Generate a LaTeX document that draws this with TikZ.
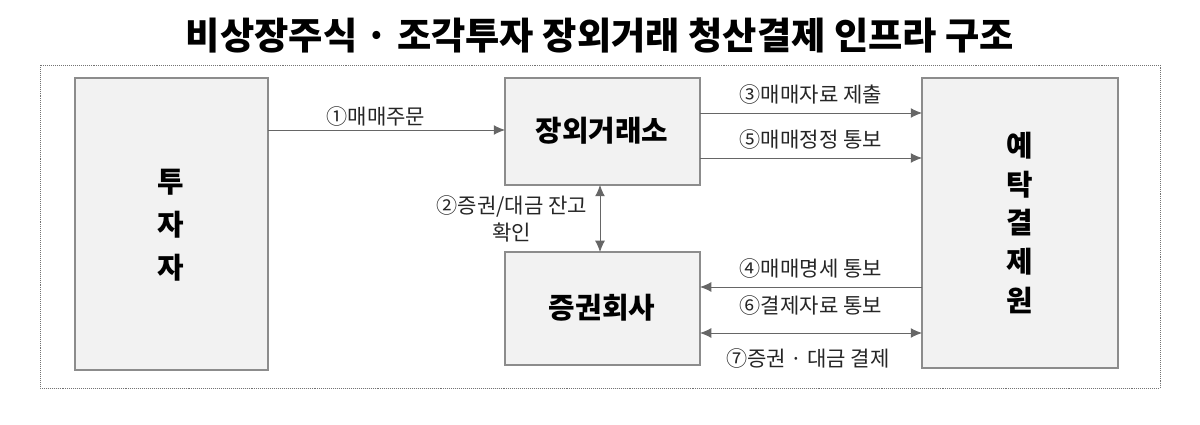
\documentclass[tikz,border=0pt]{standalone}
\usepackage{fontspec}
\setmainfont{Noto Sans CJK KR}
\usetikzlibrary{arrows.meta}
\begin{document}
\begin{tikzpicture}[x=0.025cm,y=-0.025cm,
  box/.style={draw=black!45,fill=black!5,line width=0.8pt},
  arr/.style={-{Latex[length=8pt,width=7pt]},line width=0.6pt,draw=black!60},
  darr/.style={{Latex[length=8pt,width=7pt]}-{Latex[length=8pt,width=7pt]},line width=0.6pt,draw=black!60},
  lab/.style={font=\fontsize{15}{19}\selectfont,text=black!85},
  big/.style={font=\fontsize{20.5}{24}\selectfont\bfseries}]
\useasboundingbox (0,0) rectangle (1200,425);
\node[font=\fontsize{26.5}{30}\selectfont\bfseries] (title) at (600,36) {비상장주식 · 조각투자 장외거래 청산결제 인프라 구조};
\draw[densely dotted,black!55] (40,65) rectangle (1160,388);
\draw[box] (75,78) rectangle (268,370);
\node[align=center,font=\fontsize{20.5}{30.5}\selectfont\bfseries] (invt) at (171,225) {투\\자\\자};
\draw[box] (505,78) rectangle (700,185);
\node[big] (otc) at (602,131) {장외거래소};
\draw[box] (505,252) rectangle (700,365);
\node[big] (sec) at (602,308) {증권회사};
\draw[box] (922,78) rectangle (1118,368);
\node[align=center,font=\fontsize{20.5}{27.7}\selectfont\bfseries] (ksd) at (1020,223) {예\\탁\\결\\제\\원};
\coordinate (a1) at (268,130); \coordinate (b1) at (505,130);
\draw[arr] (a1) -- (b1);
\node[lab] (l1) at (376,116) {①매매주문};
\coordinate (a2) at (600,185); \coordinate (b2) at (600,252);
\draw[darr] (a2) -- (b2);
\node[lab,align=center,anchor=east] (l2) at (592,219) {②증권/대금 잔고\\확인};
\coordinate (a3) at (700,113); \coordinate (b3) at (922,113);
\draw[arr] (a3) -- (b3);
\node[lab] (l3) at (811,94) {③매매자료 제출};
\coordinate (a5) at (700,158); \coordinate (b5) at (922,158);
\draw[arr] (a5) -- (b5);
\node[lab] (l5) at (811,139) {⑤매매정정 통보};
\coordinate (a4) at (922,287); \coordinate (b4) at (700,287);
\draw[arr] (a4) -- (b4);
\node[lab] (l4) at (811,268) {④매매명세 통보};
\node[lab] (l6) at (811,305) {⑥결제자료 통보};
\coordinate (a7) at (700,333); \coordinate (b7) at (922,333);
\draw[darr] (a7) -- (b7);
\node[lab] (l7) at (808,358) {⑦증권 · 대금 결제};
\end{tikzpicture}
\end{document}
